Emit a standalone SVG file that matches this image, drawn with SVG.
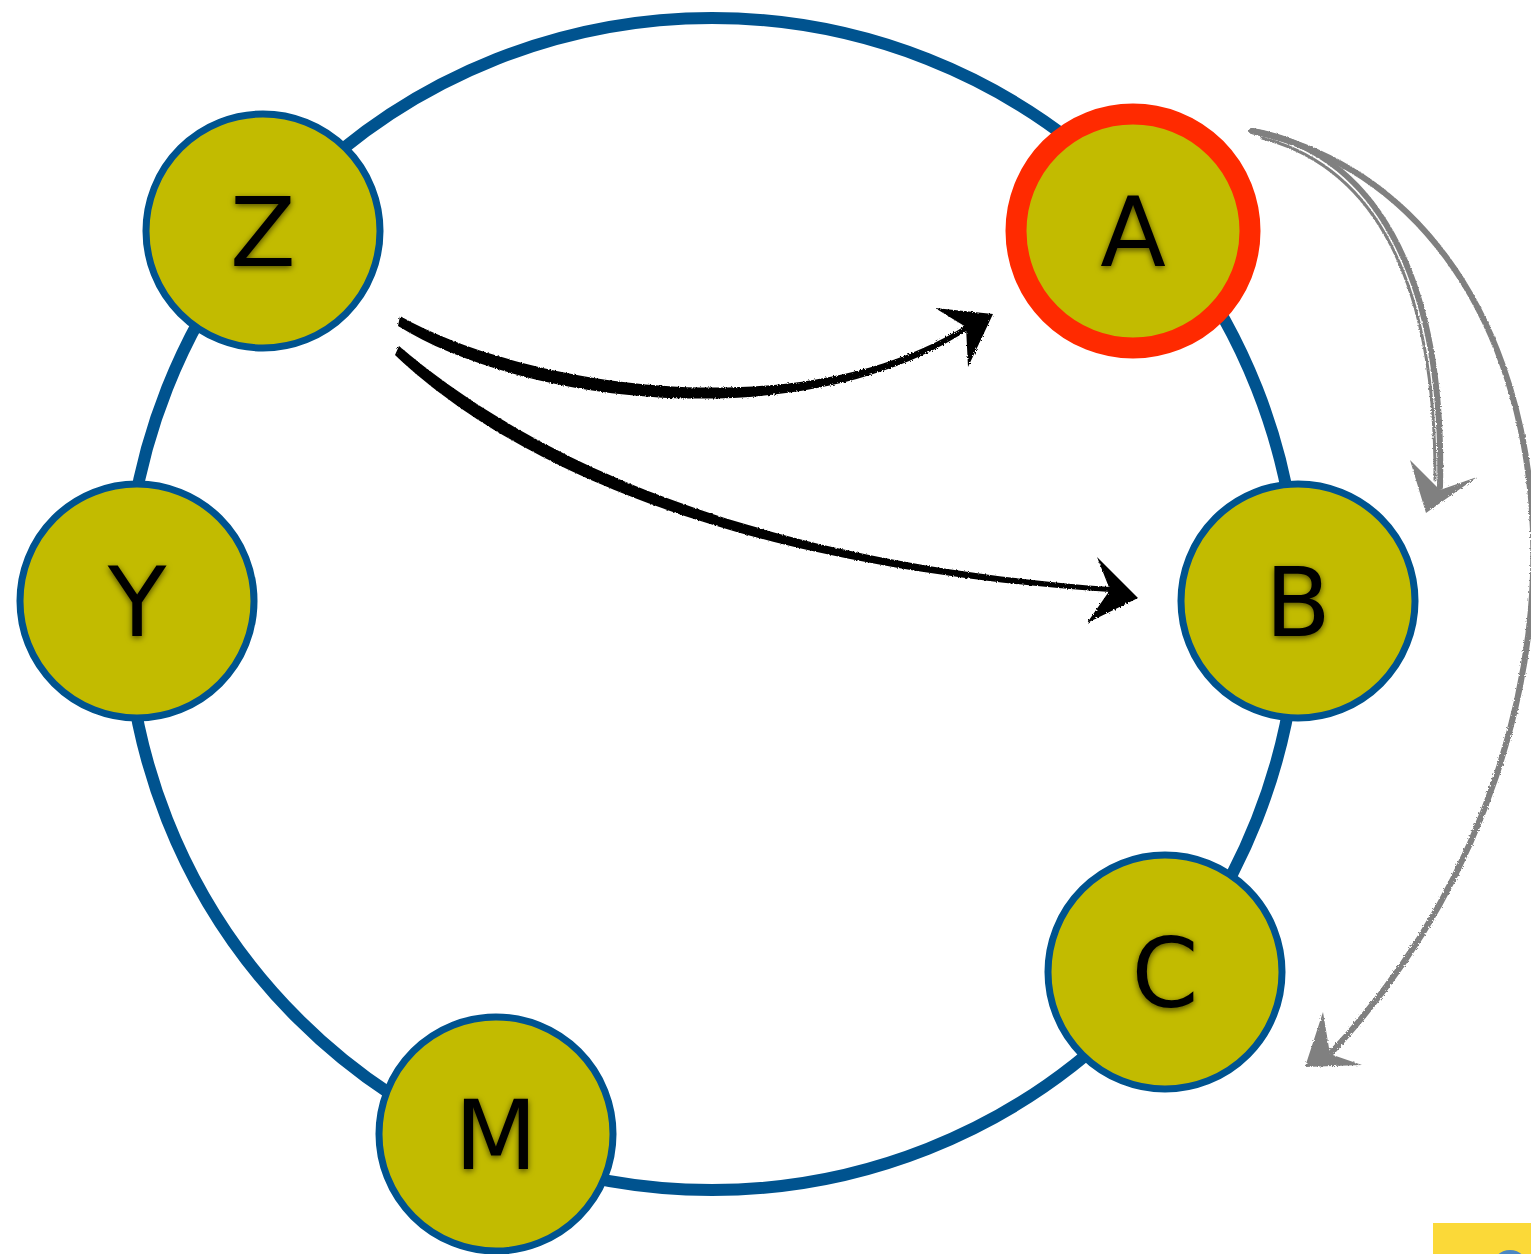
<svg xmlns="http://www.w3.org/2000/svg" width="1531" height="1254" viewBox="0 0 1531 1254">
  <style>
    .node { fill: #C2BB00; stroke: #00538F; stroke-width: 7; }
    .nodeSel { fill: #C2BB00; stroke: #FF2A00; stroke-width: 21; }
    .lbl { font-family: "DejaVu Sans", "Liberation Sans", sans-serif; font-size: 96px; fill: #000; text-anchor: middle; filter: url(#shadow); }
    .ink { fill: #000; }
    .gray { fill: none; stroke: #808080; stroke-linecap: round; }
    .grayHead { fill: #808080; }
  </style>
  <defs>
    <filter id="shadow" x="-30%" y="-30%" width="160%" height="160%">
      <feDropShadow dx="0" dy="2" stdDeviation="3" flood-color="#000" flood-opacity="0.6"/>
    </filter>
    <filter id="rough" x="-5%" y="-5%" width="110%" height="110%">
      <feTurbulence type="fractalNoise" baseFrequency="0.6" numOctaves="2" seed="3" result="n"/>
      <feDisplacementMap in="SourceGraphic" in2="n" scale="3"/>
    </filter>
  </defs>

  <circle cx="712" cy="604" r="586" fill="none" stroke="#00538F" stroke-width="12"/>

  <g id="connectors">
    <g id="edge-Z-A" filter="url(#rough)">
      <path class="ink" d="M400,316 C 520,384 800,432 968,324 L968,330 C 800,440 520,402 398,326 Z"/>
      <path d="M935,308 L993,314 L968,367 L966,327 Z" class="ink"/>
    </g>
    <g id="edge-Z-B" filter="url(#rough)">
      <path class="ink" d="M399,346 C 505,436 710,558 1110,587 L1110,592 C 705,566 495,450 395,355 Z"/>
      <path d="M1097,557 L1138,598 L1087,623 L1110,590 Z" class="ink"/>
    </g>
    <g id="edge-A-B" filter="url(#rough)">
      <path class="gray" stroke-width="6" d="M1252,131 C 1370,150 1445,270 1440,487"/>
      <path class="gray" stroke-width="3" d="M1262,138 C 1375,167 1436,282 1435,480"/>
      <path class="grayHead" d="M1410,460 L1440,490 L1477,477 L1426,513 Z"/>
    </g>
    <g id="edge-A-C" filter="url(#rough)">
      <path class="gray" stroke-width="6" d="M1252,131 C 1580,200 1640,720 1332,1052"/>
      <path class="grayHead" d="M1323,1012 L1330,1054 L1362,1065 L1305,1067 Z"/>
    </g>
  </g>

  <g id="node-Z">
    <circle class="node" cx="263" cy="231" r="117"/>
    <text class="lbl" x="263" y="266">Z</text>
  </g>
  <g id="node-A">
    <circle class="nodeSel" cx="1133" cy="231" r="117"/>
    <text class="lbl" x="1133" y="266">A</text>
  </g>
  <g id="node-Y">
    <circle class="node" cx="137" cy="601" r="117"/>
    <text class="lbl" x="137" y="636">Y</text>
  </g>
  <g id="node-B">
    <circle class="node" cx="1298" cy="601" r="117"/>
    <text class="lbl" x="1298" y="636">B</text>
  </g>
  <g id="node-C">
    <circle class="node" cx="1165" cy="972" r="117"/>
    <text class="lbl" x="1165" y="1007">C</text>
  </g>
  <g id="node-M">
    <circle class="node" cx="496" cy="1134" r="117"/>
    <text class="lbl" x="496" y="1169">M</text>
  </g>

  <g id="corner">
    <rect x="1433" y="1223" width="98" height="31" fill="#FBD938"/>
    <circle cx="1510" cy="1268" r="18" fill="#4A86C5"/>
  </g>
</svg>
